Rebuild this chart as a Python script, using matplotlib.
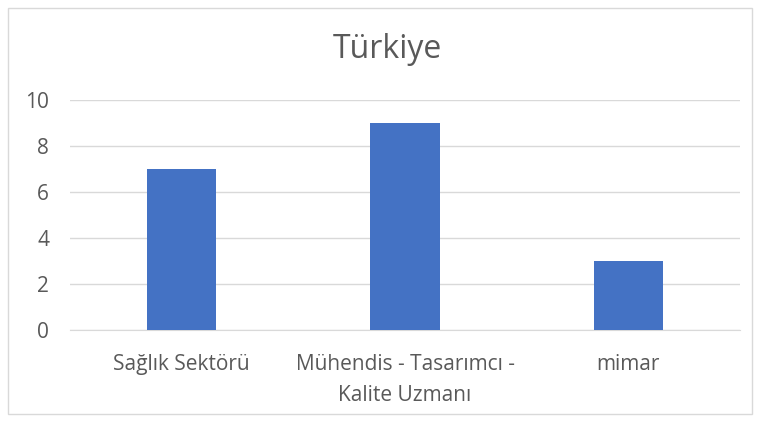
import matplotlib
matplotlib.use("Agg")
import matplotlib.pyplot as plt
from matplotlib.patches import Rectangle

categories = ["Sağlık Sektörü", "Mühendis - Tasarımcı -\nKalite Uzmanı", "mimar"]
values = [7, 9, 3]
yticks = [0, 2, 4, 6, 8, 10]

plt.rcParams["font.family"] = ["Open Sans", "DejaVu Sans"]

fig = plt.figure(figsize=(7.57, 4.24), dpi=100)
fig.patches.append(Rectangle((8 / 757, 10 / 424), 744 / 757, 406 / 424,
                             transform=fig.transFigure, fill=False,
                             edgecolor="#d9d9d9", linewidth=1))
ax = fig.add_axes([70 / 757, 1 - 330 / 424, 670 / 757, 230 / 424])

x = range(len(categories))
ax.bar(x, values, width=0.31, color="#4472C4", zorder=3)
ax.set_xlim(-0.5, len(categories) - 0.5)
ax.set_ylim(0, 10)
ax.set_yticks(yticks)
ax.set_xticks(list(x))
ax.set_xticklabels(categories, fontsize=15, color="#595959", linespacing=1.65)
ax.tick_params(axis="y", labelsize=15, labelcolor="#595959", length=0, pad=15)
ax.tick_params(axis="x", length=0, pad=17)
ax.grid(axis="y", color="#d9d9d9", linewidth=1, zorder=0)
for s in ["top", "right", "left"]:
    ax.spines[s].set_visible(False)
ax.spines["bottom"].set_color("#d9d9d9")

fig.text(387 / 757, 1 - 49 / 424, "Türkiye", fontsize=23, color="#595959",
         ha="center", va="center")

fig.savefig("out.png", dpi=100, facecolor="white")
